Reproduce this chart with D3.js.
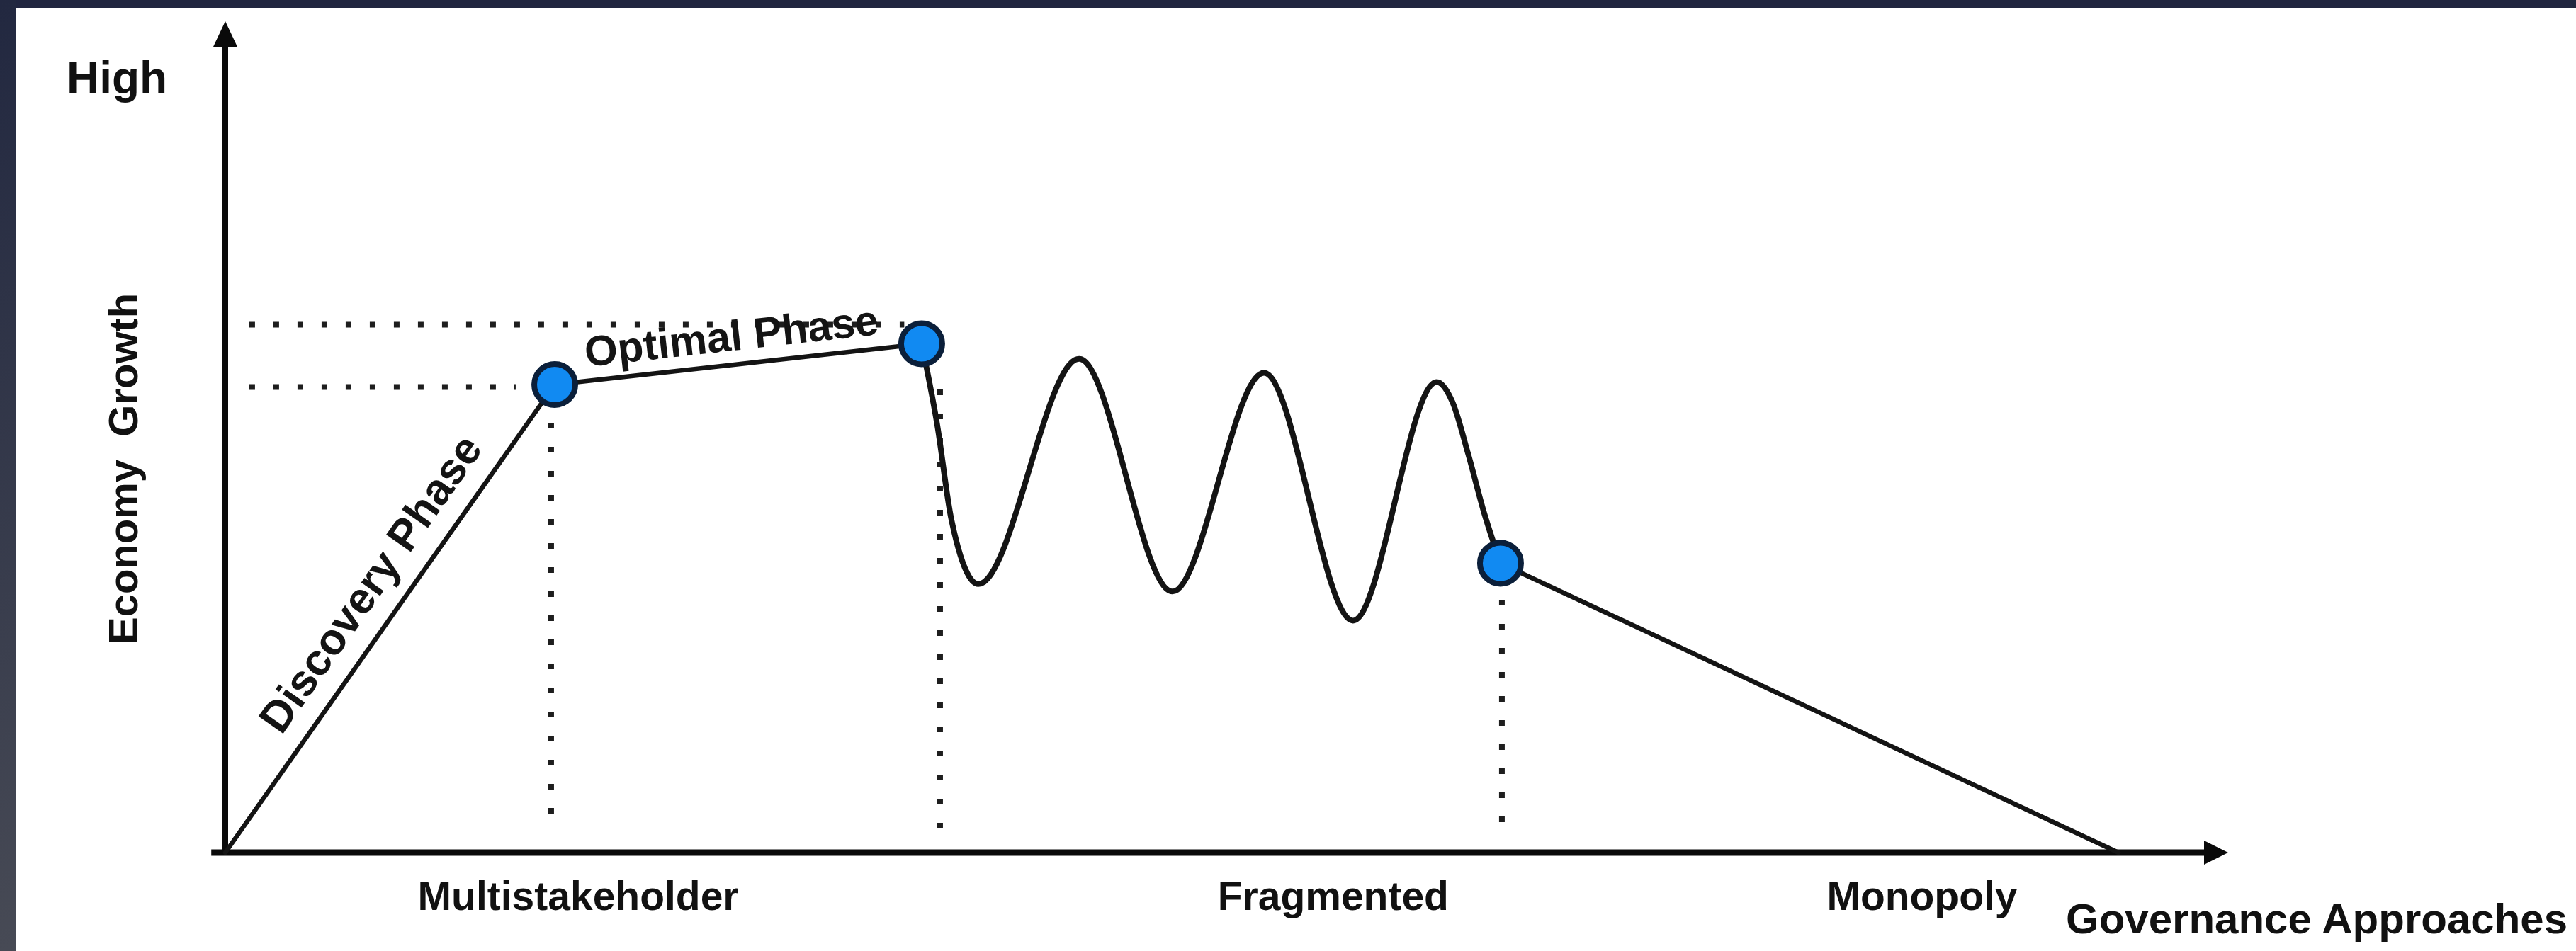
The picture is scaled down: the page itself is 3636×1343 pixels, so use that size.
<!DOCTYPE html>
<html><head><meta charset="utf-8">
<script src="https://cdn.jsdelivr.net/npm/d3@7"></script>
<style>html,body{margin:0;padding:0;background:#fff;overflow:hidden}</style>
</head><body><svg id="c" width="3636" height="1343"></svg>
<script>
// ---------------- data ----------------
const categories = ["Multistakeholder", "Fragmented", "Monopoly"];
const categoryX = [17.6, 55.3, 84.7];
const yAxisLabel = "Economy  Growth";
const xAxisLabel = "Governance Approaches";
const yTopLabel = "High";
const phaseLabels = ["Discovery Phase", "Optimal Phase"];

const discoveryLine = [[0, 0], [16.45, 56.3]];
const optimalLine = [[16.45, 56.3], [34.77, 61.2]];
const fragmentedWave = [[34.77, 61.2], [35.55, 51.4], [36.25, 40.1], [37.60, 32.3], [42.63, 59.4],
  [47.29, 31.4], [51.86, 57.7], [56.31, 27.9], [60.49, 56.6], [61.27, 54.2], [62.05, 48.0],
  [62.86, 40.8], [63.67, 34.8]];
const monopolyLine = [[63.67, 34.8], [94.52, 0]];
const milestones = [[16.45, 56.3], [34.77, 61.2], [63.67, 34.8]];
const levelGuides = [{ y: 63.5, x0: 1.2, x1: 33.9 }, { y: 56.0, x0: 1.2, x1: 14.5 }];
const dropGuides = [{ x: 16.27, y0: 51.7, y1: 2.6 }, { x: 35.69, y0: 55.7, y1: 2.5 }, { x: 63.74, y0: 30.4, y1: 2.5 }];

// ---------------- drawing ----------------
const W = 3636, H = 1343;
const svg = d3.select("#c");
const FONT = "'Liberation Sans', Arial, Helvetica, sans-serif";

const defs = svg.append("defs");
const lg = defs.append("linearGradient").attr("id", "lbar").attr("x1", 0).attr("y1", 0).attr("x2", 0).attr("y2", 1);
lg.append("stop").attr("offset", "0%").attr("stop-color", "#222840");
lg.append("stop").attr("offset", "100%").attr("stop-color", "#474a55");

svg.append("rect").attr("width", W).attr("height", H).attr("fill", "#ffffff");
svg.append("rect").attr("x", 0).attr("y", 0).attr("width", W).attr("height", 11).attr("fill", "#212640");
svg.append("rect").attr("x", 0).attr("y", 0).attr("width", 22).attr("height", H).attr("fill", "url(#lbar)");

const x = d3.scaleLinear().domain([0, 100]).range([318, 3145]);
const y = d3.scaleLinear().domain([0, 100]).range([1204, 30]);

// guides
const g = svg.append("g");
g.selectAll("line.lvl").data(levelGuides).join("line")
  .attr("x1", d => x(d.x0)).attr("x2", d => x(d.x1))
  .attr("y1", d => y(d.y)).attr("y2", d => y(d.y))
  .attr("stroke", "#1e1e1e").attr("stroke-width", 8).attr("stroke-dasharray", "8 26");
g.selectAll("line.drop").data(dropGuides).join("line")
  .attr("x1", d => x(d.x)).attr("x2", d => x(d.x))
  .attr("y1", d => y(d.y0)).attr("y2", d => y(d.y1))
  .attr("stroke", "#1e1e1e").attr("stroke-width", 8).attr("stroke-dasharray", "8 26");

// axes
const ax = svg.append("g");
ax.append("line").attr("x1", x(0)).attr("x2", x(0)).attr("y1", y(0) + 4).attr("y2", y(100) + 30)
  .attr("stroke", "#0a0a0a").attr("stroke-width", 8);
ax.append("path").attr("d", `M${x(0)},${y(100)} L${x(0) - 17},${y(100) + 36} L${x(0) + 17},${y(100) + 36} Z`).attr("fill", "#0a0a0a");
ax.append("line").attr("x1", x(-0.7)).attr("x2", x(100) - 30).attr("y1", y(0)).attr("y2", y(0))
  .attr("stroke", "#0a0a0a").attr("stroke-width", 9);
ax.append("path").attr("d", `M${x(100)},${y(0)} L${x(100) - 34},${y(0) - 17} L${x(100) - 34},${y(0) + 17} Z`).attr("fill", "#0a0a0a");

// category labels through d3 axis
const xAxis = d3.axisBottom(x).tickValues(categoryX).tickFormat((d, i) => categories[i]).tickSize(0).tickPadding(0);
const xa = svg.append("g").attr("transform", `translate(0,${y(0)})`).call(xAxis);
xa.select(".domain").remove();
xa.selectAll("text").attr("dy", null).attr("y", 81)
  .attr("font-family", FONT).attr("font-weight", "bold").attr("font-size", 57).attr("fill", "#111");

// curve lines
const lineStraight = d3.line().x(d => x(d[0])).y(d => y(d[1]));
const lineWave = d3.line().x(d => x(d[0])).y(d => y(d[1])).curve(d3.curveMonotoneX);
const lines = svg.append("g").attr("fill", "none").attr("stroke", "#141414").attr("stroke-linecap", "round").attr("stroke-linejoin", "round");
[discoveryLine, optimalLine, monopolyLine].forEach(seg => lines.append("path").attr("d", lineStraight(seg)).attr("stroke-width", 6.5));
lines.append("path").attr("d", lineWave(fragmentedWave)).attr("stroke-width", 8);

// milestone points
svg.append("g").selectAll("circle").data(milestones).join("circle")
  .attr("cx", d => x(d[0])).attr("cy", d => y(d[1])).attr("r", 29)
  .attr("fill", "#118af2").attr("stroke", "#0b1f3a").attr("stroke-width", 8);

// phase labels along segments
function segLabel(seg, text, frac, offset, size) {
  const ax0 = x(seg[0][0]), ay0 = y(seg[0][1]), bx = x(seg[1][0]), by = y(seg[1][1]);
  const ang = Math.atan2(by - ay0, bx - ax0) * 180 / Math.PI;
  const mx = ax0 + frac * (bx - ax0), my = ay0 + frac * (by - ay0);
  svg.append("text").attr("transform", `translate(${mx},${my}) rotate(${ang})`)
    .attr("x", 0).attr("y", -offset).attr("text-anchor", "middle")
    .attr("font-family", FONT).attr("font-weight", "bold").attr("font-size", size).attr("fill", "#141414")
    .text(text);
}
segLabel(discoveryLine, phaseLabels[0], 0.53, 30, 62);
segLabel(optimalLine, phaseLabels[1], 0.49, 20, 60);

// axis titles
svg.append("text").attr("x", 94).attr("y", 132)
  .attr("font-family", FONT).attr("font-weight", "bold").attr("font-size", 64).attr("fill", "#111").text(yTopLabel);
svg.append("text").attr("transform", `translate(194,910) rotate(-90)`)
  .attr("font-family", FONT).attr("font-weight", "bold").attr("font-size", 58).attr("fill", "#111")
  .style("white-space", "pre").text(yAxisLabel);
svg.append("text").attr("x", 2916).attr("y", 1318)
  .attr("font-family", FONT).attr("font-weight", "bold").attr("font-size", 60).attr("fill", "#111").text(xAxisLabel);
</script>
</body></html>
